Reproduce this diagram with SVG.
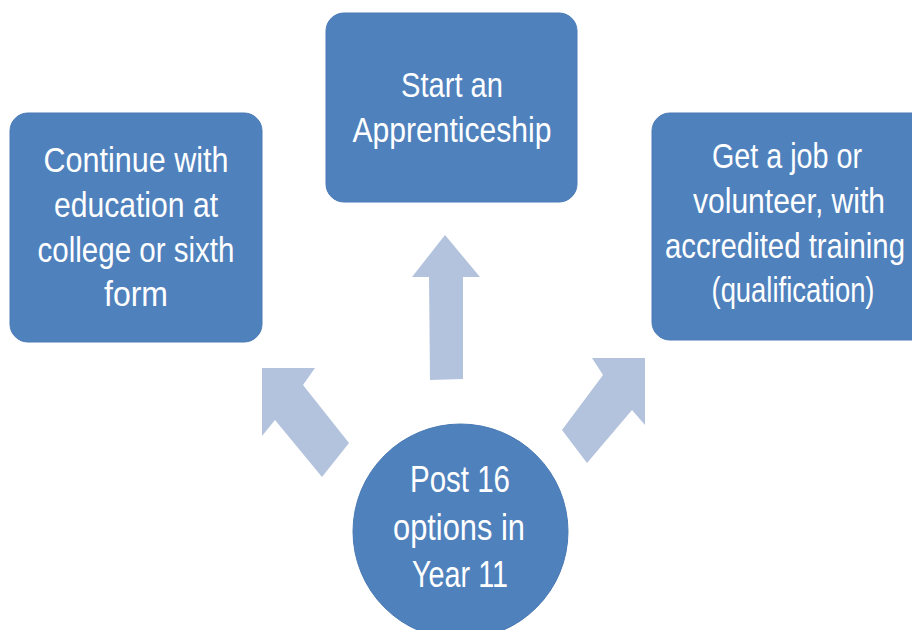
<svg xmlns="http://www.w3.org/2000/svg" width="912" height="630" viewBox="0 0 912 630">
<style>
.node{fill:#4F81BD;stroke:#4A7AB5;stroke-width:1}
.arrow{fill:#B3C3DE}
.t{font-family:"Liberation Sans","Noto Sans",sans-serif;font-size:35px;fill:#FFFFFF;text-anchor:middle}
.c{font-size:37px}
</style>
<rect width="912" height="630" fill="#FFFFFF"/>
<g id="connectors">
<polygon class="arrow" points="262,368 315,368 303,385 349,443 322,477 275,420 262,436"/>
<polygon class="arrow" points="445,235 480,277 463,277 463,379 430,380 429,277 412,277"/>
<polygon class="arrow" points="592,358 645,358 645,425 632,410 587,463 562,430 603,375"/>
</g>
<g id="education">
<rect class="node" x="10" y="113" width="252" height="229" rx="18"/>
<text class="t" x="136" y="172" textLength="185" lengthAdjust="spacingAndGlyphs">Continue with</text>
<text class="t" x="136" y="217" textLength="164" lengthAdjust="spacingAndGlyphs">education at</text>
<text class="t" x="136" y="262" textLength="197" lengthAdjust="spacingAndGlyphs">college or sixth</text>
<text class="t" x="136" y="306" textLength="64" lengthAdjust="spacingAndGlyphs">form</text>
</g>
<g id="apprenticeship">
<rect class="node" x="326" y="13" width="251" height="189" rx="18"/>
<text class="t" x="452" y="97" textLength="102" lengthAdjust="spacingAndGlyphs">Start an</text>
<text class="t" x="452" y="142" textLength="199" lengthAdjust="spacingAndGlyphs">Apprenticeship</text>
</g>
<g id="job">
<rect class="node" x="652" y="113" width="280" height="227" rx="18"/>
<text class="t" x="787" y="168" textLength="150" lengthAdjust="spacingAndGlyphs">Get a job or</text>
<text class="t" x="789" y="213" textLength="192" lengthAdjust="spacingAndGlyphs">volunteer, with</text>
<text class="t" x="785" y="258" textLength="240" lengthAdjust="spacingAndGlyphs">accredited training</text>
<text class="t" x="793" y="302" textLength="163" lengthAdjust="spacingAndGlyphs">(qualification)</text>
</g>
<g id="post16">
<circle class="node" cx="460.5" cy="531.5" r="107.5"/>
<text class="t c" x="460" y="492" textLength="100" lengthAdjust="spacingAndGlyphs">Post 16</text>
<text class="t c" x="459" y="540" textLength="132" lengthAdjust="spacingAndGlyphs">options in</text>
<text class="t c" x="460" y="587" textLength="96" lengthAdjust="spacingAndGlyphs">Year 11</text>
</g>
</svg>
